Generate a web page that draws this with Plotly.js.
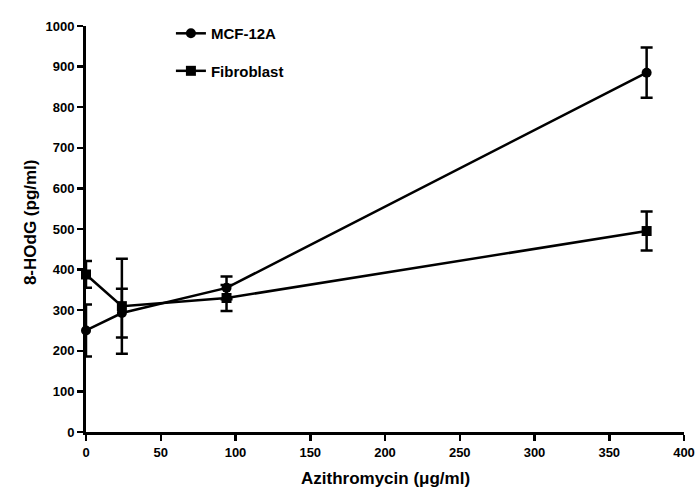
<!DOCTYPE html>
<html>
<head>
<meta charset="utf-8">
<script src="https://cdn.plot.ly/plotly-3.0.1.min.js"></script>
<style>html,body{margin:0;padding:0;background:#fff;}#chart{width:695px;height:490px;}</style>
</head>
<body>
<div id="chart"></div>
<script>
const doses = [0, 24, 94, 375];
const mcfValues = [250, 293, 355, 885];
const mcfErrors = [64, 60, 28, 62];
const fibValues = [388, 310, 330, 495];
const fibErrors = [33, 117, 32, 48];
const xTicks = [0, 50, 100, 150, 200, 250, 300, 350, 400];
const yTicks = [0, 100, 200, 300, 400, 500, 600, 700, 800, 900, 1000];
const xTitle = 'Azithromycin (μg/ml)';
const yTitle = '8-HOdG (pg/ml)';

const FONT = 'Liberation Sans, Arial, sans-serif';
const common = {
  mode: 'lines+markers',
  line: {color: '#000', width: 2.5},
  cliponaxis: false
};
const traces = [
  Object.assign({}, common, {
    name: 'MCF-12A', x: doses, y: mcfValues, legendgroup: 'a',
    marker: {symbol: 'circle', size: 10, color: '#000'},
    error_y: {type: 'data', array: mcfErrors, visible: true, color: '#000', thickness: 2.5, width: 6}
  }),
  Object.assign({}, common, {
    name: 'Fibroblast', x: doses, y: fibValues, legendgroup: 'b',
    marker: {symbol: 'square', size: 10, color: '#000'},
    error_y: {type: 'data', array: fibErrors, visible: true, color: '#000', thickness: 2.5, width: 6}
  })
];
const tickFont = {family: FONT, size: 13, color: '#000', weight: 'bold'};
const titleFont = {family: FONT, size: 17, color: '#000', weight: 'bold'};
const layout = {
  width: 695, height: 490,
  margin: {l: 86, r: 11, t: 26, b: 58},
  paper_bgcolor: '#fff', plot_bgcolor: '#fff',
  showlegend: true,
  legend: {x: 0.142, y: 1.022, xanchor: 'left', yanchor: 'top', bgcolor: 'rgba(0,0,0,0)',
    font: {family: FONT, size: 15, color: '#000', weight: 'bold'},
    traceorder: 'grouped', tracegroupgap: 15, itemwidth: 30},
  xaxis: {
    range: [0, 400], tickvals: xTicks, ticktext: xTicks.map(String),
    showgrid: false, zeroline: false, showline: true, linecolor: '#000', linewidth: 3,
    ticks: 'outside', ticklen: 6, tickwidth: 2.5, tickcolor: '#000', tickfont: tickFont
  },
  yaxis: {
    range: [0, 1000], tickvals: yTicks, ticktext: yTicks.map(String),
    showgrid: false, zeroline: false, showline: true, linecolor: '#000', linewidth: 3,
    ticks: 'outside', ticklen: 6, tickwidth: 2.5, tickcolor: '#000', tickfont: tickFont
  },
  annotations: [
    {text: xTitle, xref: 'paper', yref: 'paper', x: 0.5, y: 0, yshift: -46,
     xanchor: 'center', yanchor: 'middle', showarrow: false, font: titleFont},
    {text: yTitle, xref: 'paper', yref: 'paper', x: 0, xshift: -56, y: 0.517,
     xanchor: 'center', yanchor: 'middle', textangle: -90, showarrow: false, font: titleFont}
  ]
};
Plotly.newPlot('chart', traces, layout, {displayModeBar: false, staticPlot: true});
</script>
</body>
</html>
